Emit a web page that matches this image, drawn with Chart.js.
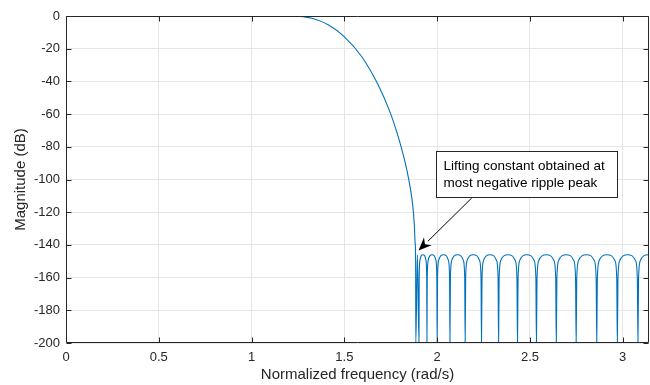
<!DOCTYPE html>
<html>
<head>
<meta charset="utf-8">
<script src="https://cdn.jsdelivr.net/npm/chart.js@4.4.1/dist/chart.umd.min.js"></script>
<style>
  html, body { margin: 0; padding: 0; background: #fff; }
  #wrap { width: 650px; height: 385px; }
</style>
</head>
<body>
<div id="wrap"><canvas id="magChart" width="650" height="385"></canvas></div>
<script>
// Magnitude response (rad/s, dB)
// passband + transition band
const freqTrans = [0, 0.6, 1.2, 1.236, 1.28, 1.325, 1.415, 1.499, 1.593, 1.683, 1.745, 1.781, 1.808, 1.844, 1.867, 1.877, 1.881, 1.884, 1.885];
const magTrans  = [0, 0, 0, -0.1, -0.5, -1.4, -5.5, -12.6, -24.8, -42.4, -58.5, -70.4, -80.9, -98.2, -114.3, -127.7, -138, -150, -200];

// stopband ripple lobes (null -> peak -> null)
const freqStop = [
  1.8935, 1.902,
  1.9033, 1.9072, 1.914, 1.9235, 1.933, 1.9398, 1.9437, 1.945,
  1.9467, 1.9516, 1.9604, 1.9725, 1.9846, 1.9934, 1.9983, 2.000,
  2.0021, 2.0083, 2.0193, 2.0345, 2.0497, 2.0607, 2.0669, 2.069,
  2.0715, 2.0788, 2.092, 2.110, 2.128, 2.1412, 2.1485, 2.151,
  2.1536, 2.1616, 2.1756, 2.195, 2.2144, 2.2284, 2.2364, 2.239,
  2.2418, 2.25, 2.2648, 2.285, 2.3052, 2.32, 2.3282, 2.331,
  2.3341, 2.3432, 2.3596, 2.382, 2.4044, 2.4208, 2.4299, 2.433,
  2.4361, 2.4452, 2.4616, 2.484, 2.5064, 2.5228, 2.5319, 2.535,
  2.5382, 2.5478, 2.565, 2.5885, 2.612, 2.6292, 2.6388, 2.642,
  2.6452, 2.6548, 2.672, 2.6955, 2.719, 2.7362, 2.7458, 2.749,
  2.7523, 2.7623, 2.7801, 2.8045, 2.8289, 2.8467, 2.8567, 2.860,
  2.8633, 2.8733, 2.8911, 2.9155, 2.9399, 2.9577, 2.9677, 2.971,
  2.9743, 2.9843, 3.0021, 3.0265, 3.0509, 3.0687, 3.0787, 3.082,
  3.0853, 3.0953, 3.1131, 3.1375, 3.1416
];
const magStop = [
  -146, -200,
  -160, -149.5, -146.7, -146, -146.7, -149.5, -160, -200,
  -160, -149.5, -146.7, -146, -146.7, -149.5, -160, -200,
  -160, -149.5, -146.7, -146, -146.7, -149.5, -160, -200,
  -160, -149.5, -146.7, -146, -146.7, -149.5, -160, -200,
  -160, -149.5, -146.7, -146, -146.7, -149.5, -160, -200,
  -160, -149.5, -146.7, -146, -146.7, -149.5, -160, -200,
  -160, -149.5, -146.7, -146, -146.7, -149.5, -160, -200,
  -160, -149.5, -146.7, -146, -146.7, -149.5, -160, -200,
  -160, -149.5, -146.7, -146, -146.7, -149.5, -160, -200,
  -160, -149.5, -146.7, -146, -146.7, -149.5, -160, -200,
  -160, -149.5, -146.7, -146, -146.7, -149.5, -160, -200,
  -160, -149.5, -146.7, -146, -146.7, -149.5, -160, -200,
  -160, -149.5, -146.7, -146, -146.7, -149.5, -160, -200,
  -160, -149.5, -146.7, -146, -146.05
];

const xTicks = [0, 0.5, 1, 1.5, 2, 2.5, 3];
const yTicks = [-200, -180, -160, -140, -120, -100, -80, -60, -40, -20, 0];

const noteLines = ['Lifting constant obtained at', 'most negative ripple peak'];

Chart.defaults.animation = false;

const FONT = '"Liberation Sans", Arial, Helvetica, sans-serif';
const AXIS = '#262626';
const GRID = '#e6e6e6';

// annotation placement, in data units
const note = {
  box: { x0: 1.992, x1: 2.969, y0: -82.6, y1: -110.9 },
  tail: { x: 2.1865, y: -111.3 },
  tip: { x: 1.8998, y: -143.4 }
};

// MATLAB-like box with inward ticks, plus the text arrow
const framePlugin = {
  id: 'frame',
  afterDatasetsDraw(chart) {
    const { ctx, chartArea: a, scales: { x, y } } = chart;
    ctx.save();
    ctx.strokeStyle = AXIS;
    ctx.lineWidth = 1;
    ctx.beginPath();
    const L = Math.round(a.left) + 0.5, R = Math.round(a.right) - 0.5;
    const T = Math.round(a.top) + 0.5, B = Math.round(a.bottom) - 0.5;
    x.ticks.forEach(t => {
      const px = Math.round(x.getPixelForValue(t.value)) + 0.5;
      ctx.moveTo(px, B); ctx.lineTo(px, B - 5);
      ctx.moveTo(px, T); ctx.lineTo(px, T + 5);
    });
    y.ticks.forEach(t => {
      const py = Math.round(y.getPixelForValue(t.value)) + 0.5;
      ctx.moveTo(L, py); ctx.lineTo(L + 5, py);
      ctx.moveTo(R, py); ctx.lineTo(R - 5, py);
    });
    ctx.rect(L, T, R - L, B - T);
    ctx.stroke();

    // text box
    const bx0 = Math.round(x.getPixelForValue(note.box.x0)) + 0.5;
    const bx1 = Math.round(x.getPixelForValue(note.box.x1)) + 0.5;
    const by0 = Math.round(y.getPixelForValue(note.box.y0)) + 0.5;
    const by1 = Math.round(y.getPixelForValue(note.box.y1)) + 0.5;
    ctx.fillStyle = '#fff';
    ctx.fillRect(bx0, by0, bx1 - bx0, by1 - by0);
    ctx.strokeStyle = AXIS;
    ctx.strokeRect(bx0, by0, bx1 - bx0, by1 - by0);
    ctx.fillStyle = '#000';
    ctx.font = '13.5px ' + FONT;
    ctx.textBaseline = 'alphabetic';
    ctx.textAlign = 'left';
    noteLines.forEach((s, i) => ctx.fillText(s, bx0 + 7, by0 + 18.5 + i * 17));

    // arrow
    const tx = x.getPixelForValue(note.tail.x), ty = y.getPixelForValue(note.tail.y);
    const hx = x.getPixelForValue(note.tip.x), hy = y.getPixelForValue(note.tip.y);
    const ang = Math.atan2(hy - ty, hx - tx);
    const len = 13, half = 5.5;
    const bxh = hx - len * Math.cos(ang), byh = hy - len * Math.sin(ang);
    ctx.strokeStyle = '#000';
    ctx.beginPath();
    ctx.moveTo(tx, ty);
    ctx.lineTo(bxh, byh);
    ctx.stroke();
    ctx.fillStyle = '#000';
    ctx.beginPath();
    ctx.moveTo(hx, hy);
    ctx.lineTo(bxh + half * Math.sin(ang), byh - half * Math.cos(ang));
    ctx.lineTo(hx - (len - 4) * Math.cos(ang), hy - (len - 4) * Math.sin(ang));
    ctx.lineTo(bxh - half * Math.sin(ang), byh + half * Math.cos(ang));
    ctx.closePath();
    ctx.fill();
    ctx.restore();
  }
};

const points = freqTrans.map((f, i) => ({ x: f, y: magTrans[i] }))
  .concat(freqStop.map((f, i) => ({ x: f, y: magStop[i] })));

new Chart(document.getElementById('magChart'), {
  type: 'line',
  data: {
    datasets: [{
      data: points,
      borderColor: '#0072BD',
      borderWidth: 1.1,
      pointRadius: 0,
      fill: false,
      cubicInterpolationMode: 'monotone'
    }]
  },
  options: {
    responsive: false,
    animation: false,
    events: [],
    parsing: false,
    layout: { padding: { left: 0, right: 1, top: 16, bottom: 0 } },
    plugins: { legend: { display: false }, tooltip: { enabled: false } },
    scales: {
      x: {
        type: 'linear',
        min: 0,
        max: Math.PI,
        afterBuildTicks: s => { s.ticks = xTicks.map(v => ({ value: v })); },
        afterFit: s => { s.height = 42; },
        grid: { color: GRID, drawTicks: false },
        border: { display: false },
        ticks: { padding: 7, color: AXIS, font: { family: FONT, size: 13 }, maxRotation: 0, callback: v => String(v) },
        title: { display: true, text: 'Normalized frequency (rad/s)', color: AXIS, font: { family: FONT, size: 15 }, padding: { top: 0, bottom: 1 } }
      },
      y: {
        min: -200,
        max: 0,
        afterBuildTicks: s => { s.ticks = yTicks.map(v => ({ value: v })); },
        afterFit: s => { s.width = 66; },
        grid: { color: GRID, drawTicks: false },
        border: { display: false },
        ticks: { padding: 6, color: AXIS, font: { family: FONT, size: 13 }, callback: v => String(v) },
        title: { display: true, text: 'Magnitude (dB)', color: AXIS, font: { family: FONT, size: 15 }, padding: { top: 11.5, bottom: 0 } }
      }
    }
  },
  plugins: [framePlugin]
});
</script>
</body>
</html>
